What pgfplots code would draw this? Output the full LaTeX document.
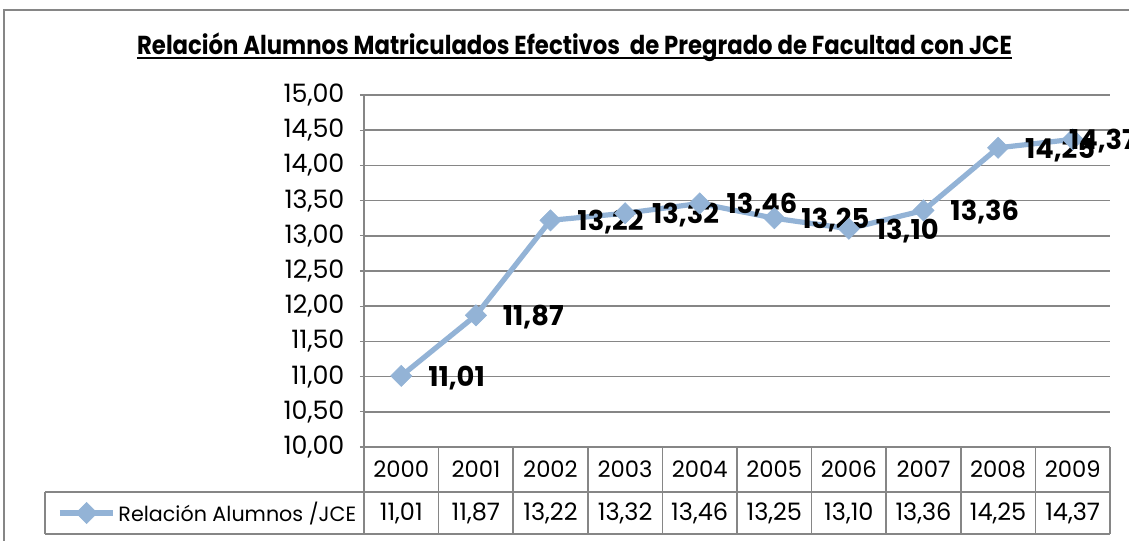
\documentclass[border=0pt]{standalone}
\usepackage{fontspec}
\setmainfont{Poppins}
\usepackage{graphicx}
\usepackage{pgfplots}
\usepackage{pgfplotstable}
\pgfplotsset{compat=1.18}
\definecolor{serie}{HTML}{93B3D6}
\definecolor{gridc}{HTML}{868686}

\pgfplotstableread{
x year v
0 2000 11.01
1 2001 11.87
2 2002 13.22
3 2003 13.32
4 2004 13.46
5 2005 13.25
6 2006 13.10
7 2007 13.36
8 2008 14.25
9 2009 14.37
}\datatable

\newcommand\tabfont{\fontsize{17}{20}\selectfont}
\newcommand\valfont{\fontsize{18}{20}\selectfont}
\newcommand\tickfont{\fontsize{19}{21}\selectfont}
\newcommand\labfont{\fontsize{20.5}{22}\selectfont}

\begin{document}
\begin{tikzpicture}[x=0.75pt,y=0.75pt]
\pgfkeys{/pgf/number format/.cd, fixed, fixed zerofill, precision=2, use comma, assume math mode=true}
\path[use as bounding box] (-364,447) rectangle (765,-93);
\clip (-364,447) rectangle (765,-93);
\draw[gridc, line width=1.2pt] (-360,437) rectangle (775,-110);
\node[font=\bfseries\fontsize{19.5}{22}\selectfont, inner sep=0pt, anchor=base] at (210.5,392)
  {\resizebox{656pt}{\height}{Relación Alumnos Matriculados Efectivos~ de Pregrado de Facultad con JCE}};
\draw[black, line width=1.9pt] (-227,389) -- (648,389);
\begin{axis}[
  at={(0,0)}, anchor=south west,
  scale only axis, width=559.5pt, height=264pt,
  xmin=-0.5, xmax=9.5, ymin=10, ymax=15,
  clip=false,
  axis x line=none,
  axis y line*=left,
  y axis line style={gridc, line width=1.9pt, -},
  ytick={10,10.5,...,15},
  xtick=\empty,
  tick align=outside,
  major tick length=3pt,
  ytick style={gridc, line width=1pt},
  ymajorgrids,
  grid style={gridc, line width=1.1pt},
  yticklabel style={font=\tickfont, inner sep=0pt, xshift=-11.5pt},
  legend style={at={(-0.4115,-0.1875)}, anchor=west, draw=none, fill=none,
    inner sep=0pt, font=\fontsize{15.5}{18}\selectfont, cells={anchor=west}},
  legend image code/.code={\draw[mark repeat=2,mark phase=2] plot coordinates {(0pt,0pt)(20pt,0pt)(40pt,0pt)};},
]
% table lines
\draw[gridc, line width=1.1pt] (axis cs:-4.776,9.361) -- (axis cs:9.5,9.361);
\draw[gridc, line width=1.1pt] (axis cs:-4.776,8.764) -- (axis cs:9.5,8.764);
\draw[gridc, line width=1.1pt] (axis cs:-4.776,9.361) -- (axis cs:-4.776,8.764);
\pgfplotsinvokeforeach{-0.5,0.5,1.5,2.5,3.5,4.5,5.5,6.5,7.5,8.5,9.5}{
  \draw[gridc, line width=1.1pt] (axis cs:#1,10) -- (axis cs:#1,8.764);
}
\addplot[serie, line width=3.9pt, mark=square*,
  mark options={rotate=45, fill=serie, draw=serie, line width=0.5pt, solid},
  mark size=5.6pt,
  nodes near coords,
  visualization depends on={x \as \myx},
  every node near coord/.append style={font=\bfseries\labfont, anchor=west, inner sep=0pt,
    xshift={\myx>8.5 ? -3 : 20}, yshift=-1.5pt, text=black}]
  table[x=x, y=v] {\datatable};
\addlegendentry{Relación Alumnos /JCE}
\addplot[draw=none, mark=none, forget plot, nodes near coords, point meta=explicit,
  every node near coord/.append style={font=\valfont, anchor=center, inner sep=0pt, text=black}]
  table[x=x, y expr=9.0625, meta=v] {\datatable};
\addplot[draw=none, mark=none, forget plot, nodes near coords, point meta=explicit symbolic,
  every node near coord/.append style={font=\tabfont, anchor=center, inner sep=0pt, text=black}]
  table[x=x, y expr=9.6875, meta=year] {\datatable};
\end{axis}
\end{tikzpicture}
\end{document}
